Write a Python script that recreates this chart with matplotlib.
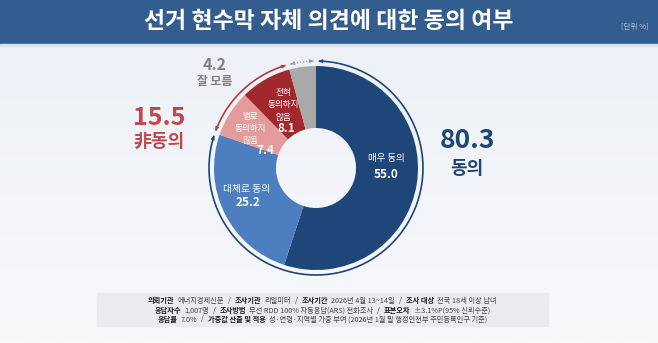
import numpy as np
import matplotlib
matplotlib.use("Agg")
import matplotlib.pyplot as plt
from matplotlib.patches import Rectangle

plt.rcParams["font.family"] = ["Noto Sans CJK KR", "DejaVu Sans"]

# data
labels = ["매우 동의", "대체로 동의", "별로\n동의하지\n않음", "전혀\n동의하지\n않음", "잘 모름"]
values = [55.0, 25.2, 7.4, 8.1, 4.2]
colors = ["#1f4678", "#4c7ec0", "#e49b9c", "#a3282d", "#a9a9a9"]
agree_total = 80.3
disagree_total = 15.5
dunno_total = 4.2

title = "선거 현수막 자체 의견에 대한 동의 여부"
note_lines = [
    [("의뢰기관", True), ("에너지경제신문", False), ("/", False), ("조사기관", True), ("리얼미터", False),
     ("/", False), ("조사기간", True), ("2026년 4월 13~14일", False), ("/", False),
     ("조사 대상", True), ("전국 18세 이상 남녀", False)],
    [("응답자수", True), ("1,007명", False), ("/", False), ("조사방법", True),
     ("무선 RDD 100% 자동응답(ARS) 전화조사", False), ("/", False), ("표본오차", True),
     ("±3.1%P(95% 신뢰수준)", False)],
    [("응답률", True), ("7.0%", False), ("/", False), ("가중값 산출 및 적용", True),
     ("성·연령·지역별 가중 부여 (2026년 1월 말 행정안전부 주민등록인구 기준)", False)],
]

W, H = 658, 343
fig = plt.figure(figsize=(W / 100, H / 100), dpi=100)
ax = fig.add_axes([0, 0, 1, 1])


def Y(py):
    return H - py


# background gradient
grad = np.linspace(0, 1, 200).reshape(-1, 1)
bg = plt.matplotlib.colors.LinearSegmentedColormap.from_list("bg", ["#edf1f7", "#f8f9fb"])
ax.imshow(grad, extent=(0, W, 0, Y(45)), cmap=bg, aspect="auto", zorder=0)

# title bar
ax.add_patch(Rectangle((0, Y(44)), W, 44, color="#345d8f", zorder=1))
ax.add_patch(Rectangle((0, Y(46)), W, 2, color="#dde3ec", zorder=1))
ax.text(W / 2, Y(22), title, color="white", fontsize=16.5, fontweight="bold",
        ha="center", va="center", zorder=2)
ax.text(635, Y(27), "[단위 %]", color="#b4c4dc", fontsize=5.5, ha="center", va="center", zorder=2)

# donut
cx, cy, r = 316, Y(168), 102
ax.pie(values, colors=colors, startangle=90, counterclock=False, radius=r, center=(cx, cy),
       wedgeprops=dict(width=62, linewidth=0))

# outer arcs with arrows
ra = 107
b_agree = (values[0] + values[1]) / sum(values)
b_dis = (values[0] + values[1] + values[2] + values[3]) / sum(values)


def ang(f):
    return np.deg2rad(90 - 360 * f)


def draw_arc(f0, f1, color, ls="-", gap=0.004, lw=1.2):
    t = np.linspace(ang(f0 + gap), ang(f1 - gap), 200)
    xs, ys = cx + ra * np.cos(t), cy + ra * np.sin(t)
    ax.plot(xs, ys, color=color, lw=lw, ls=ls, zorder=3, solid_capstyle="butt")
    for a, b in [(1, 0), (-2, -1)]:
        ax.annotate("", xy=(xs[b], ys[b]), xytext=(xs[a], ys[a]),
                    arrowprops=dict(arrowstyle="-|>", color=color, lw=0.8,
                                    mutation_scale=5, shrinkA=0, shrinkB=0), zorder=4)


draw_arc(0, b_agree, "#1f4678")
draw_arc(b_agree, b_dis, "#b33b3f")
draw_arc(b_dis, 1.0, "#9a9a9a", ls=(0, (1, 1.5)), lw=0.9)


def stack(x, y0, text, fs, step):
    for i, line in enumerate(text.split("\n")):
        ax.text(x, Y(y0 + i * step), line, color="white", fontsize=fs,
                ha="center", va="center", zorder=5)


# segment labels
stack(386, 158, labels[0], 6.8, 0)
ax.text(386, Y(174), f"{values[0]:.1f}", color="white", fontsize=8.5, fontweight="bold",
        ha="center", va="center", zorder=5)
stack(247, 189, labels[1], 7, 0)
ax.text(248, Y(203), f"{values[1]:.1f}", color="white", fontsize=8.5, fontweight="bold",
        ha="center", va="center", zorder=5)
stack(250, 116, labels[2], 6.2, 12)
ax.text(265, Y(150), f"{values[2]:.1f}", color="white", fontsize=8.5, fontweight="bold",
        ha="center", va="center", zorder=5)
stack(283, 93, labels[3], 6.2, 12)
ax.text(286, Y(129), f"{values[3]:.1f}", color="white", fontsize=8.5, fontweight="bold",
        ha="center", va="center", zorder=5)

# totals
ax.text(467, Y(140), f"{agree_total:.1f}", color="#1d4677", fontsize=19, fontweight="bold",
        ha="center", va="center")
ax.text(467, Y(168), "동의", color="#1d4677", fontsize=13, fontweight="bold",
        ha="center", va="center")
ax.text(159, Y(118), f"{disagree_total:.1f}", color="#c0474b", fontsize=18, fontweight="bold",
        ha="center", va="center")
ax.text(159, Y(141), "非동의", color="#c0474b", fontsize=13, fontweight="bold",
        ha="center", va="center")
ax.text(215, Y(65), f"{dunno_total:.1f}", color="#808080", fontsize=11.5, fontweight="bold",
        ha="center", va="center")
ax.text(215, Y(82), labels[4], color="#808080", fontsize=8.5, fontweight="bold",
        ha="center", va="center")

# footnote box
ax.add_patch(Rectangle((97, Y(326)), 451, 33, color="#e9ebee", zorder=1))
renderer = fig.canvas.get_renderer()
fs = 5.2
for ypx, parts in zip([301, 310.5, 319.5], note_lines):
    items = []
    for txt, bold in parts:
        t = ax.text(0, Y(ypx), txt, fontsize=fs, fontweight="bold" if bold else "normal",
                    color="#1a1a1a" if bold else "#444444", ha="left", va="center", zorder=5)
        items.append((t, t.get_window_extent(renderer).width))
    gaps = []
    for i in range(len(parts) - 1):
        gaps.append(4 if (parts[i][0] == "/" or parts[i + 1][0] == "/") else 3)
    total = sum(w for _, w in items) + sum(gaps)
    x = 322 - total / 2
    for i, (t, w) in enumerate(items):
        t.set_x(x)
        x += w + (gaps[i] if i < len(gaps) else 0)

ax.set_xlim(0, W)
ax.set_ylim(0, H)
ax.set_aspect("auto")
ax.axis("off")

fig.savefig("out.png", dpi=100)
